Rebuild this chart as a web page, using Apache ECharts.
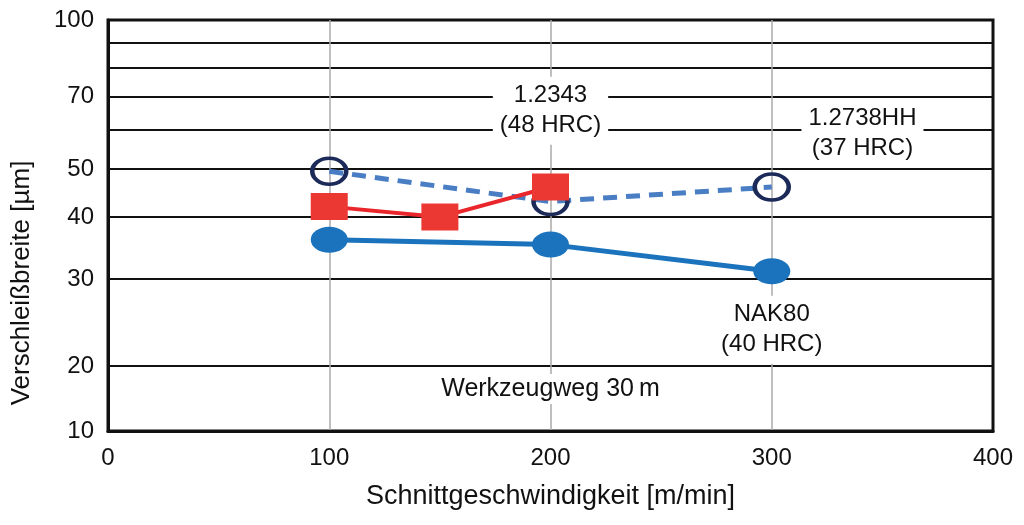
<!DOCTYPE html>
<html>
<head>
<meta charset="utf-8">
<script src="https://cdn.jsdelivr.net/npm/echarts@6/dist/echarts.min.js"></script>
<style>html,body{margin:0;padding:0;background:#fff;}#c{width:1024px;height:525px;}</style>
</head>
<body>
<div id="c"></div>
<script>
// ---- data ----
const speeds2343 = [100, 150, 200];
const wear2343 = [42, 40, 46];
const speeds2738 = [100, 200, 300];
const wear2738 = [49.5, 43, 46];
const speedsNak = [100, 200, 300];
const wearNak = [36, 35.2, 31.1];
const xLabelValues = [0, 100, 200, 300, 400];
const xGridValues = [100, 200, 300];
const yGridValues = [20, 30, 40, 50, 60, 70, 80, 90, 100];
const Y_MIN = 14.8;
const yLabelValues = [Y_MIN, 20, 30, 40, 50, 70, 100];
const yLabelTexts = ['10', '20', '30', '40', '50', '70', '100'];
const xTitle = 'Schnittgeschwindigkeit [m/min]';
const yTitle = 'Verschleißbreite [µm]';
const annotations = [
  { text: '1.2343\n(48 HRC)', at: [200, 65.6], pad: [4, 7], size: 24 },
  { text: '1.2738HH\n(37 HRC)', at: [341, 59.0], pad: [4, 7], size: 24 },
  { text: 'NAK80\n(40 HRC)', at: [300, 23.7], pad: [4, 7], size: 24 },
  { text: 'Werkzeugweg 30\u2009m', at: [200, 18.0], pad: [0, 7], size: 25 }
];

const pairs = (xs, ys) => xs.map((x, i) => [x, ys[i]]);
const FONT = 'Liberation Sans';

const chart = echarts.init(document.getElementById('c'), null, { renderer: 'canvas' });
chart.setOption({
  animation: false,
  backgroundColor: '#fff',
  grid: { left: 108, right: 31, top: 20, bottom: 94, show: true, borderColor: '#111', borderWidth: 3, backgroundColor: 'transparent' },
  xAxis: {
    type: 'value', min: 0, max: 400, interval: 100,
    name: xTitle, nameLocation: 'middle', nameGap: 52,
    nameTextStyle: { fontFamily: FONT, fontSize: 27, color: '#111' },
    axisLine: { show: true, lineStyle: { color: '#111', width: 3 } },
    axisTick: { show: false, customValues: xGridValues },
    axisLabel: { fontFamily: FONT, fontSize: 24, color: '#111', margin: 15, customValues: xLabelValues },
    splitLine: { show: true, lineStyle: { color: '#aaaaaa', width: 1.5 } }
  },
  yAxis: {
    type: 'log', logBase: 10, min: Y_MIN, max: 100,
    axisLine: { show: true, lineStyle: { color: '#111', width: 3 } },
    axisTick: { show: false, customValues: yGridValues },
    axisLabel: { fontFamily: FONT, fontSize: 24, color: '#111', margin: 14,
      customValues: yLabelValues,
      formatter: v => { const i = yLabelValues.findIndex(t => Math.abs(t - v) < 0.01); return i >= 0 ? yLabelTexts[i] : ''; } },
    splitLine: { show: true, lineStyle: { color: '#111', width: 2 } }
  },
  graphic: [{
    type: 'text', x: 22, y: 283, rotation: Math.PI / 2,
    style: { text: yTitle, fontFamily: FONT, fontSize: 26, fill: '#111', align: 'center', verticalAlign: 'middle' }
  }],
  series: [
    {
      name: '1.2738HH', type: 'line', data: pairs(speeds2738, wear2738),
      symbol: 'circle', symbolSize: [34, 26],
      itemStyle: { color: 'rgba(255,255,255,0)', borderColor: '#1b2a58', borderWidth: 4 },
      lineStyle: { color: '#4a7ec4', width: 5, type: [14, 9] },
      z: 3
    },
    {
      name: '1.2343', type: 'line', data: pairs(speeds2343, wear2343),
      symbol: 'rect', symbolSize: [37, 27],
      itemStyle: { color: '#ec3832' },
      lineStyle: { color: '#e8262b', width: 4 },
      z: 4
    },
    {
      name: 'NAK80', type: 'line', data: pairs(speedsNak, wearNak),
      symbol: 'circle', symbolSize: [37, 26],
      itemStyle: { color: '#1a73bc' },
      lineStyle: { color: '#1a73bc', width: 5 },
      z: 4
    },
    {
      name: 'labels', type: 'line', data: [], z: 2,
      markPoint: {
        symbol: 'rect', symbolSize: 1, itemStyle: { color: 'rgba(0,0,0,0)' },
        label: { show: true, position: 'inside', fontFamily: FONT, fontSize: 24, lineHeight: 30,
          color: '#111', backgroundColor: '#fff' },
        data: annotations.map(a => ({ coord: a.at, value: 0, label: { formatter: a.text, padding: a.pad, fontSize: a.size } }))
      }
    }
  ]
});
</script>
</body>
</html>
